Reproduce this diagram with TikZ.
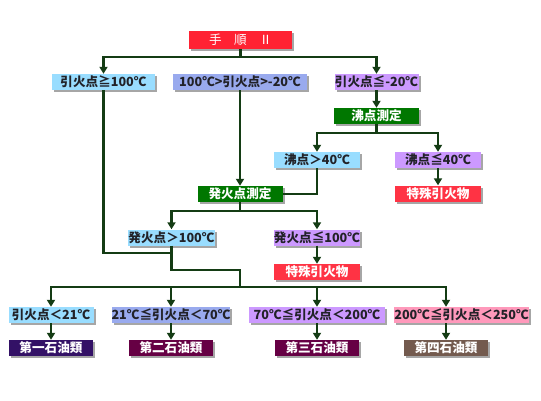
\documentclass[tikz,border=0pt]{standalone}
\usepackage{fontspec}
\setmainfont{Noto Sans CJK JP}
\usetikzlibrary{arrows.meta}
\usetikzlibrary{shadows}

\definecolor{wiregreen}{RGB}{20,60,20}
\definecolor{textdark}{RGB}{34,34,40}
\definecolor{titlered}{RGB}{255,34,51}
\definecolor{paleblue}{RGB}{153,221,255}
\definecolor{periwinkle}{RGB}{153,170,238}
\definecolor{lilac}{RGB}{204,153,255}
\definecolor{rosepink}{RGB}{255,153,187}
\definecolor{stepgreen}{RGB}{0,119,0}
\definecolor{specialred}{RGB}{255,51,68}
\definecolor{navyclass}{RGB}{51,17,102}
\definecolor{maroonclass}{RGB}{102,0,68}
\definecolor{brownclass}{RGB}{115,90,78}

\begin{document}
\begin{tikzpicture}[x = 1pt, y = -1pt,
  box/.style = {rectangle, inner sep = 0pt, minimum height = 16pt, font = \fontsize{12.6}{12.6}\selectfont\bfseries, text = textdark, drop shadow = {shadow xshift = 2pt, shadow yshift = -2pt, fill = black!35, opacity = 1}},
  darkbox/.style = {box, text = white},
  wire/.style = {draw = wiregreen, line width = 2.2pt},
  arr/.style = {wire, -{Triangle[width = 8pt, length = 7pt]}}]
\useasboundingbox (0, 0) rectangle (541, 400);

\node[darkbox, fill = titlered, minimum width = 103pt, minimum height = 18pt, font = \fontsize{12.6}{12.6}\selectfont] (title) at (240.5, 40) {手　順　Ⅱ};

\node[box, fill = paleblue, minimum width = 103pt] (a1) at (103.5, 82) {引火点≧100℃};
\node[box, fill = periwinkle, minimum width = 134pt] (a2) at (240, 82) {100℃>引火点>-20℃};
\node[box, fill = lilac, minimum width = 84pt] (a3) at (376.5, 82) {引火点≦-20℃};

\node[darkbox, fill = stepgreen, minimum width = 85pt] (boil) at (376.5, 116) {沸点測定};
\node[box, fill = paleblue, minimum width = 86pt] (b1) at (317, 160) {沸点＞40℃};
\node[box, fill = lilac, minimum width = 86pt] (b2) at (438, 160) {沸点≦40℃};
\node[darkbox, fill = specialred, minimum width = 86pt] (sp1) at (438, 193.5) {特殊引火物};

\node[darkbox, fill = stepgreen, minimum width = 85pt] (fire) at (240, 194) {発火点測定};
\node[box, fill = paleblue, minimum width = 87pt] (c1) at (171.5, 237.5) {発火点＞100℃};
\node[box, fill = lilac, minimum width = 86pt] (c2) at (317, 237.5) {発火点≦100℃};
\node[darkbox, fill = specialred, minimum width = 86pt] (sp2) at (317, 272) {特殊引火物};

\node[box, fill = paleblue, minimum width = 85pt] (d1) at (51, 315) {引火点＜21℃};
\node[box, fill = periwinkle, minimum width = 118pt] (d2) at (171, 315) {21℃≦引火点＜70℃};
\node[box, fill = lilac, minimum width = 136pt] (d3) at (317, 315) {70℃≦引火点＜200℃};
\node[box, fill = rosepink, minimum width = 131pt] (d4) at (461.5, 315) {200℃≦引火点＜250℃};

\node[darkbox, fill = navyclass, minimum width = 84pt] (e1) at (51, 348) {第一石油類};
\node[darkbox, fill = maroonclass, minimum width = 84pt] (e2) at (171, 348) {第二石油類};
\node[darkbox, fill = maroonclass, minimum width = 84pt] (e3) at (317, 348) {第三石油類};
\node[darkbox, fill = brownclass, minimum width = 84pt] (e4) at (446, 348) {第四石油類};

\coordinate (top) at (240.5, 57);
\coordinate (boilsplit) at (376.5, 133);
\coordinate (firesplit) at (240, 211);
\coordinate (join) at (171.5, 253);
\coordinate (bend) at (240, 270);
\coordinate (bottom) at (240, 287);

\draw[wire] (title) -- (top);
\draw[arr] (top) -| (a1.north);
\draw[arr] (top) -| (a3.north);
\draw[arr] (a2) -- (fire);
\draw[arr] (a3) -- (boil);
\draw[wire] (boil) -- (boilsplit);
\draw[arr] (boilsplit) -| (b1.north);
\draw[arr] (boilsplit) -| (b2.north);
\draw[arr] (b2) -- (sp1);
\draw[wire] (b1.south) |- (fire.east);
\draw[wire] (fire) -- (firesplit);
\draw[arr] (firesplit) -| (c1.north);
\draw[arr] (firesplit) -| (c2.north);
\draw[arr] (c2) -- (sp2);
\draw[wire] (a1.south) |- (join);
\draw[wire] (c1.south) |- (bend) -- (bottom);
\draw[arr] (bottom) -| (d1.north);
\draw[arr] (bottom) -| (d2.north);
\draw[arr] (bottom) -| (d3.north);
\draw[arr] (bottom) -| (d4.north -| e4);
\draw[arr] (d1) -- (e1);
\draw[arr] (d2) -- (e2);
\draw[arr] (d3) -- (e3);
\draw[arr] (d4.south -| e4) -- (e4);

\end{tikzpicture}
\end{document}
